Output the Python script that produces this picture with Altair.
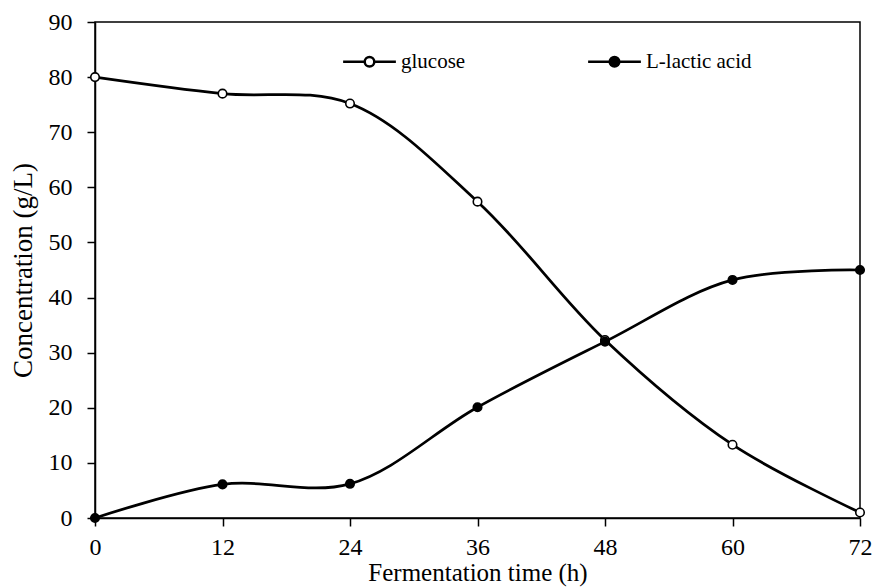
import altair as alt
import pandas as pd

time_h = [0, 12, 24, 36, 48, 60, 72]
glucose = [80.0, 77.0, 75.2, 57.4, 32.3, 13.3, 1.0]
lactic = [0.0, 6.1, 6.2, 20.1, 32.0, 43.2, 45.0]
series_names = ["glucose", "L-lactic acid"]
x_ticks = [0, 12, 24, 36, 48, 60, 72]
y_ticks = [0, 10, 20, 30, 40, 50, 60, 70, 80, 90]

rows = []
for t, g in zip(time_h, glucose):
    rows.append({"time": t, "value": g, "series": series_names[0]})
for t, l in zip(time_h, lactic):
    rows.append({"time": t, "value": l, "series": series_names[1]})
df = pd.DataFrame(rows)

FONT = "Liberation Serif"

x_enc = alt.X("time:Q", scale=alt.Scale(domain=[0, 72], nice=False),
              axis=alt.Axis(values=x_ticks, title="Fermentation time (h)"))
y_enc = alt.Y("value:Q", scale=alt.Scale(domain=[0, 90], nice=False),
              axis=alt.Axis(values=y_ticks, title="Concentration (g/L)"))

lines = alt.Chart(df).mark_line(
    interpolate="catmull-rom", color="black", strokeWidth=2.75
).encode(x=x_enc, y=y_enc, detail="series:N")

legend_path = "M-5.5,0L-1,0M1,0L5.5,0M-1,0A1,1,0,1,1,1,0A1,1,0,1,1,-1,0"

points = alt.Chart(df).mark_point(
    shape="circle", filled=False, stroke="black", strokeWidth=1.6, size=72, opacity=1
).encode(
    x=x_enc, y=y_enc,
    fill=alt.Fill("series:N",
                  scale=alt.Scale(domain=series_names, range=["white", "black"]),
                  legend=alt.Legend(
                      title=None, orient="none", direction="horizontal",
                      legendX=264, legendY=29, padding=0,
                      symbolType=legend_path, symbolSize=92,
                      symbolStrokeColor="black", symbolStrokeWidth=2.5,
                      symbolOpacity=1,
                      labelFont=FONT, labelFontSize=21, labelColor="black",
                      labelOffset=21, columnPadding=117,
                  )),
)

chart = alt.layer(lines, points).properties(
    width=765, height=496,
    autosize=alt.AutoSizeParams(type="none"),
    padding={"left": 95, "top": 22, "right": 15, "bottom": 70},
).configure_view(
    stroke="black", strokeWidth=1.5
).configure_axis(
    labelFont=FONT, titleFont=FONT, labelFontSize=24,
    labelColor="black", titleColor="black", titleFontWeight="normal",
    domainColor="black", domainWidth=1.5, tickColor="black", tickWidth=1.5,
    tickSize=8, grid=False, labelFlush=False, labelOverlap=False,
).configure_axisX(
    labelPadding=9, titlePadding=1, titleFontSize=25
).configure_axisY(
    labelPadding=15, titlePadding=11, titleFontSize=27
)

chart.save("out.html", embed_options={"renderer": "svg", "actions": False})
